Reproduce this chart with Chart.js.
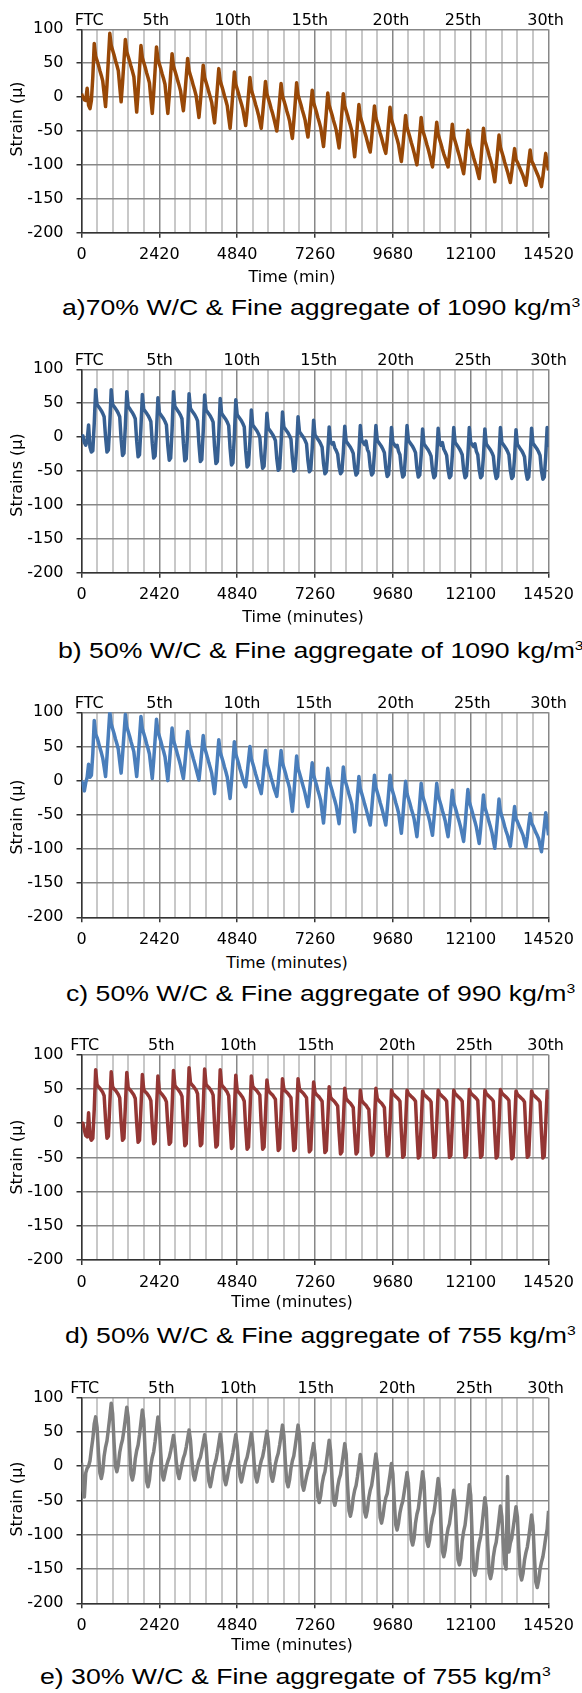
<!DOCTYPE html>
<html>
<head>
<meta charset="utf-8">
<script src="https://cdn.jsdelivr.net/npm/chart.js@4.4.1/dist/chart.umd.min.js"></script>
<style>
html,body{margin:0;padding:0;background:#fff;}
body{width:582px;height:1693px;position:relative;overflow:hidden;font-family:"DejaVu Sans",sans-serif;color:#000;}
canvas{position:absolute;left:0;}
.cap{position:absolute;white-space:nowrap;font-family:"Liberation Sans",Arial,sans-serif;font-size:22px;line-height:22px;transform:scaleX(1.211);transform-origin:0 0;}
.cap sup{font-size:13px;line-height:0;vertical-align:8px;}
.xt{position:absolute;white-space:nowrap;font-size:16px;line-height:16px;transform:translateX(-50%);}
.yt{position:absolute;white-space:nowrap;font-size:16px;line-height:16px;transform:translate(-50%,-50%) rotate(-90deg);}
</style>
</head>
<body>
<canvas id="ca" width="582" height="268" style="top:0px"></canvas>
<canvas id="cb" width="582" height="268" style="top:340px"></canvas>
<canvas id="cc" width="582" height="268" style="top:683px"></canvas>
<canvas id="cd" width="582" height="268" style="top:1025px"></canvas>
<canvas id="ce" width="582" height="268" style="top:1368px"></canvas>

<div class="yt" style="left:17px;top:119px">Strain (μ)</div>
<div class="yt" style="left:17px;top:475px">Strains (μ)</div>
<div class="yt" style="left:17px;top:817px">Strain (μ)</div>
<div class="yt" style="left:17px;top:1157px">Strain (μ)</div>
<div class="yt" style="left:17px;top:1499px">Strain (μ)</div>

<div class="xt" style="left:292px;top:269px">Time (min)</div>
<div class="xt" style="left:303px;top:609px">Time (minutes)</div>
<div class="xt" style="left:287px;top:955px">Time (minutes)</div>
<div class="xt" style="left:292px;top:1294px">Time (minutes)</div>
<div class="xt" style="left:292px;top:1637px">Time (minutes)</div>

<div class="cap" style="left:61.5px;top:297.4px">a)70% W/C &amp; Fine aggregate of 1090 kg/m<sup>3</sup></div>
<div class="cap" style="left:57.5px;top:639.7px">b) 50% W/C &amp; Fine aggregate of 1090 kg/m<sup>3</sup></div>
<div class="cap" style="left:66px;top:983.1px">c) 50% W/C &amp; Fine aggregate of 990 kg/m<sup>3</sup></div>
<div class="cap" style="left:65px;top:1325.4px">d) 50% W/C &amp; Fine aggregate of 755 kg/m<sup>3</sup></div>
<div class="cap" style="left:40px;top:1666.4px">e) 30% W/C &amp; Fine aggregate of 755 kg/m<sup>3</sup></div>

<script>
// ---- sampling (minutes between stored readings) ----
const STEP_MIN = 44;
const CYCLE_MIN = 484;

// ---- tick labels ----
const xTickValues = [0, 2420, 4840, 7260, 9680, 12100, 14520];
const xTickLabels = ['0', '2420', '4840', '7260', '9680', '12100', '14520'];
const yTickValues = [-200, -150, -100, -50, 0, 50, 100];
const cycleLabels = ['FTC', '5th', '10th', '15th', '20th', '25th', '30th'];
const cycleLabelMinA = [237, 2311, 4705, 7099, 9619, 11864, 14428];
const cycleLabelMinB = [237, 2425, 4990, 7374, 9767, 12171, 14520];
const cycleLabelMinC = [237, 2425, 4990, 7218, 9767, 12150, 14520];
const cycleLabelMinD = [100, 2483, 4876, 7283, 9813, 12207, 14428];

// ---- series values (strain, micro-strain) one value every 44 min ----
const strainA = [
5,0,-4,-5,13,-12,-17,-5,30,79,60,
54,47,39,32,24,5,-14,18,56,94,76,
69,62,54,47,39,16,-7,21,53,85,67,
60,53,45,38,30,4,-22,7,42,76,58,
51,44,36,29,21,-2,-24,5,40,74,56,
49,42,34,27,19,-3,-24,2,34,64,46,
39,32,24,17,9,-6,-20,3,30,57,39,
32,25,17,10,2,-14,-30,-7,20,47,29,
22,15,7,0,-8,-23,-38,-14,14,42,24,
17,10,2,-5,-13,-30,-46,-21,8,37,19,
12,5,-3,-10,-18,-30,-42,-21,4,29,11,
4,-3,-11,-18,-26,-36,-46,-25,-1,23,5,
-2,-9,-17,-24,-32,-41,-50,-29,-5,20,2,
-5,-12,-20,-27,-35,-48,-61,-36,-8,21,3,
-4,-11,-19,-26,-34,-47,-59,-38,-14,10,-8,
-15,-22,-30,-37,-45,-59,-73,-49,-22,6,-12,
-19,-26,-34,-41,-49,-62,-75,-51,-22,5,-13,
-20,-27,-35,-42,-50,-69,-88,-65,-39,-11,-29,
-36,-43,-51,-58,-66,-74,-81,-61,-37,-13,-31,
-38,-45,-53,-60,-68,-76,-83,-63,-38,-15,-33,
-40,-47,-55,-62,-70,-83,-95,-75,-51,-27,-45,
-52,-59,-67,-74,-82,-91,-100,-79,-55,-30,-48,
-55,-62,-70,-77,-85,-94,-103,-83,-60,-37,-55,
-62,-69,-77,-84,-90,-97,-103,-84,-64,-40,-58,
-65,-72,-80,-87,-95,-104,-113,-94,-71,-49,-67,
-74,-81,-89,-96,-103,-112,-120,-98,-72,-46,-64,
-71,-78,-86,-93,-101,-113,-125,-104,-80,-56,-74,
-81,-88,-96,-103,-110,-118,-126,-111,-93,-76,-92,
-96,-101,-106,-111,-116,-123,-130,-114,-95,-78,-94,
-98,-103,-108,-113,-118,-125,-132,-117,-100,-83,-98,
-108];

const strainB = [
0,2,-8,-12,-5,18,-15,-22,-20,20,70,
48,45,42,39,35,30,0,-22,-19,19,70,
48,45,42,39,35,30,-3,-27,-24,17,67,
45,42,39,36,32,27,-6,-29,-26,14,63,
41,38,35,32,28,23,-9,-31,-28,9,58,
36,33,30,27,23,18,-13,-34,-31,11,67,
45,42,39,36,32,27,-9,-35,-32,9,64,
42,39,36,33,29,24,-11,-36,-33,8,62,
40,37,34,31,27,22,-14,-39,-36,4,57,
35,32,29,26,22,17,-17,-41,-38,2,55,
33,30,27,24,20,15,-20,-44,-41,-6,40,
18,15,12,9,5,0,-28,-46,-43,-10,35,
13,10,7,4,0,-5,-32,-49,-46,-10,37,
15,12,9,6,2,-3,-31,-50,-47,-14,30,
8,5,2,-1,-5,-10,-35,-51,-48,-17,25,
3,0,-3,-6,-10,-15,-39,-54,-51,-23,15,
-7,-10,-8,-16,-20,-25,-44,-54,-51,-22,16,
-6,-9,-12,-15,-19,-24,-45,-56,-53,-23,17,
-5,-8,-11,-6,-18,-23,-44,-56,-53,-23,17,
-5,-8,-11,-14,-18,-23,-45,-58,-55,-26,14,
-8,-11,-14,-12,-21,-26,-47,-59,-56,-24,17,
-5,-8,-11,-14,-18,-23,-46,-59,-56,-27,12,
-10,-13,-16,-19,-23,-28,-49,-60,-57,-28,13,
-9,-12,-8,-18,-22,-27,-48,-60,-57,-27,14,
-8,-11,-14,-17,-21,-26,-48,-60,-57,-27,14,
-8,-11,-14,-10,-21,-26,-48,-60,-57,-28,12,
-10,-13,-16,-19,-23,-28,-50,-61,-58,-28,14,
-8,-11,-14,-17,-21,-26,-49,-61,-58,-29,11,
-11,-14,-17,-20,-24,-29,-51,-62,-59,-29,13,
-9,-12,-15,-18,-22,-27,-50,-62,-59,-28,14,
-15];

const strainC = [
0,-5,-15,-3,5,24,5,8,40,88,68,
63,56,48,41,33,20,6,35,68,101,83,
76,69,61,54,46,28,11,37,67,97,79,
72,65,57,50,42,24,6,32,63,94,76,
69,62,54,47,39,21,3,29,60,90,72,
65,58,50,43,35,18,0,23,50,77,59,
52,45,37,30,22,12,3,24,48,72,54,
47,40,32,25,17,9,1,21,43,66,48,
41,34,26,19,11,-4,-19,5,32,60,42,
35,28,20,13,5,-11,-26,-1,28,57,39,
32,25,17,10,2,-4,-9,9,30,50,32,
25,18,10,3,-5,-12,-19,0,22,44,26,
19,12,4,-3,-11,-17,-23,-3,21,44,26,
19,12,4,-3,-11,-28,-45,-21,8,36,18,
11,4,-4,-11,-19,-29,-38,-19,4,26,8,
1,-6,-14,-21,-29,-46,-62,-38,-9,18,0,
-7,-14,-22,-29,-37,-50,-63,-38,-8,20,2,
-5,-12,-20,-27,-35,-55,-75,-51,-22,6,-12,
-19,-26,-34,-41,-49,-57,-65,-43,-18,8,-10,
-17,-24,-32,-39,-47,-56,-65,-43,-18,8,-10,
-17,-24,-32,-39,-47,-62,-77,-54,-27,-1,-19,
-26,-33,-41,-48,-56,-69,-82,-59,-32,-4,-22,
-29,-36,-44,-51,-59,-70,-80,-57,-31,-4,-22,
-29,-36,-44,-51,-59,-71,-82,-62,-38,-14,-32,
-39,-46,-54,-61,-69,-79,-89,-66,-39,-13,-31,
-38,-45,-53,-60,-68,-80,-92,-71,-46,-21,-39,
-46,-53,-61,-68,-76,-88,-99,-77,-53,-27,-45,
-52,-59,-67,-74,-80,-88,-96,-78,-58,-38,-56,
-60,-65,-70,-75,-80,-89,-97,-82,-64,-48,-62,
-66,-71,-76,-80,-85,-95,-104,-86,-67,-47,-63,
-80];

const strainD = [
0,0,-10,-18,-20,15,-20,-25,-22,20,78,
56,53,51,48,45,40,5,-22,-19,27,75,
53,50,48,45,42,37,2,-25,-22,25,74,
52,49,47,44,41,36,0,-28,-25,22,71,
49,46,44,41,38,33,-3,-30,-27,20,69,
47,44,42,39,36,31,-4,-31,-28,23,77,
55,52,50,47,44,39,0,-33,-30,24,81,
59,56,54,51,48,43,1,-33,-30,23,79,
57,54,52,49,46,41,-1,-35,-32,22,78,
56,53,51,48,45,40,-2,-37,-34,17,70,
48,45,43,40,37,32,-7,-38,-35,16,69,
54,51,49,47,44,41,-3,-38,-35,13,63,
48,45,43,41,38,35,-6,-40,-37,13,65,
50,47,45,43,40,37,-5,-40,-37,13,65,
50,47,45,43,40,37,-6,-42,-39,9,60,
45,42,40,38,35,32,-9,-43,-40,5,53,
38,35,33,31,28,25,-14,-45,-42,3,51,
36,33,31,29,26,23,-15,-45,-42,2,48,
33,30,28,26,23,20,-18,-47,-44,2,51,
36,33,31,29,26,23,-17,-48,-45,0,48,
43,41,39,37,35,32,-13,-50,-47,-1,48,
43,41,39,37,35,32,-14,-51,-48,-2,47,
42,40,38,36,34,31,-14,-50,-47,-1,48,
43,41,39,37,35,32,-13,-50,-47,-1,48,
43,41,39,37,35,32,-13,-50,-47,0,49,
44,42,40,38,36,33,-12,-50,-47,-1,48,
43,41,39,37,35,32,-14,-51,-48,-1,49,
44,42,40,38,36,33,-14,-52,-49,-2,47,
42,40,38,36,34,31,-14,-50,-47,-1,47,
42,40,38,36,34,31,-15,-51,-48,-2,47,
35];

const strainE = [
5,-35,-45,-10,-3,0,8,25,40,62,72,
57,20,-10,-18,-8,15,28,37,54,72,92,
77,35,0,-8,2,20,31,39,53,69,86,
71,26,-12,-20,-10,11,23,31,46,64,82,
67,19,-22,-30,-20,1,13,21,36,54,72,
57,19,-12,-20,-10,0,7,13,22,33,45,
30,6,-10,-18,-8,3,12,18,28,40,53,
38,9,-12,-20,-10,0,8,13,23,34,46,
31,0,-22,-30,-20,-7,2,9,20,33,47,
32,3,-19,-27,-17,-5,4,10,20,33,46,
31,4,-15,-23,-13,-2,7,13,23,35,48,
33,5,-15,-23,-13,-1,8,14,25,38,51,
36,7,-14,-22,-12,3,12,19,31,45,60,
45,8,-22,-30,-20,-3,8,15,29,44,60,
45,5,-27,-35,-25,-15,-6,-1,9,21,33,
18,-18,-45,-53,-43,-26,-15,-8,6,22,38,
23,-17,-49,-57,-47,-30,-19,-12,2,17,33,
18,-28,-65,-73,-63,-46,-35,-28,-15,1,17,
2,-36,-66,-74,-64,-46,-35,-28,-14,1,18,
3,-40,-75,-83,-73,-57,-46,-40,-26,-12,4,
-11,-52,-85,-93,-83,-68,-58,-51,-38,-24,-9,
-24,-70,-107,-115,-105,-83,-70,-62,-45,-27,-8,
-23,-70,-109,-117,-107,-87,-75,-68,-53,-36,-18,
-33,-83,-124,-132,-122,-103,-91,-84,-69,-52,-35,
-50,-97,-136,-144,-134,-109,-95,-86,-68,-48,-27,
-42,-101,-151,-159,-149,-125,-112,-103,-86,-66,-46,
-61,-113,-156,-164,-154,-132,-119,-111,-95,-77,-58,
-73,-112,-142,-150,-15,-125,-112,-105,-90,-75,-59,
-74,-120,-158,-166,-156,-137,-126,-118,-104,-88,-71,
-86,-131,-169,-177,-167,-150,-140,-132,-119,-104,-92,
-65];

const FONT = '"DejaVu Sans", sans-serif';
Chart.defaults.font.family = FONT;
Chart.defaults.color = '#000';

const gridMinutes = [];
for (let t = 0; t <= 14520; t += CYCLE_MIN) gridMinutes.push(t);
const isMajor = v => xTickValues.includes(v);

const panels = [
  {id: 'ca', topH: 29.3, botH: 35.3, data: strainA, color: '#984807', topPos: cycleLabelMinA},
  {id: 'cb', topH: 29.3, botH: 35.3, data: strainB, color: '#376092', topPos: cycleLabelMinB},
  {id: 'cc', topH: 29.3, botH: 33.7, data: strainC, color: '#4A7EBB', topPos: cycleLabelMinC},
  {id: 'cd', topH: 29.7, botH: 33.0, data: strainD, color: '#943634', topPos: cycleLabelMinD},
  {id: 'ce', topH: 29.7, botH: 32.7, data: strainE, color: '#7F7F7F', topPos: cycleLabelMinD}
];

function makeChart(p) {
  const pts = p.data.map((v, i) => ({x: i * STEP_MIN, y: v}));
  const tickFont = {family: FONT, size: 16};
  new Chart(document.getElementById(p.id), {
    type: 'line',
    data: {datasets: [{data: pts, borderColor: p.color, borderWidth: 3.5, pointRadius: 0, tension: 0, fill: false, borderJoinStyle: 'round'}]},
    options: {
      responsive: false, animation: false, devicePixelRatio: 1,
      layout: {padding: {left: 0, right: 27, top: 0, bottom: 0}},
      plugins: {legend: {display: false}, tooltip: {enabled: false}},
      scales: {
        x: {
          type: 'linear', position: 'bottom', min: 0, max: 14520,
          afterFit: s => { s.height = p.botH; },
          afterBuildTicks: s => { s.ticks = gridMinutes.map(v => ({value: v})); },
          ticks: {autoSkip: false, maxRotation: 0, minRotation: 0, padding: 8, font: tickFont, color: '#000',
            callback: v => { const i = xTickValues.indexOf(v); return i >= 0 ? xTickLabels[i] : ''; }},
          grid: {
            color: c => (c.tick && isMajor(c.tick.value)) ? '#878787' : '#c8c8c8',
            lineWidth: c => (c.tick && isMajor(c.tick.value)) ? 1.5 : 2,
            tickColor: c => (c.tick && isMajor(c.tick.value)) ? '#333' : 'rgba(0,0,0,0)',
            tickLength: 5, tickWidth: 1.5, drawTicks: true
          },
          border: {display: true, color: '#333', width: 1.5}
        },
        x2: {
          type: 'linear', position: 'top', min: 0, max: 14520,
          afterFit: s => { s.height = p.topH; },
          afterBuildTicks: s => { s.ticks = p.topPos.map(v => ({value: v})); },
          ticks: {autoSkip: false, maxRotation: 0, minRotation: 0, padding: -1, font: tickFont, color: '#000',
            callback: (v, i) => cycleLabels[i]},
          grid: {display: false, drawTicks: false},
          border: {display: false}
        },
        y: {
          min: -200, max: 100,
          afterFit: s => { s.width = 81.5; },
          afterBuildTicks: s => { s.ticks = yTickValues.map(v => ({value: v})); },
          ticks: {padding: 13, font: tickFont, color: '#000'},
          grid: {color: '#878787', lineWidth: 1.5, tickColor: '#333', tickLength: 5, tickWidth: 1.5},
          border: {display: true, color: '#333', width: 1.5}
        }
      }
    }
  });
}
panels.forEach(makeChart);
</script>
</body>
</html>
